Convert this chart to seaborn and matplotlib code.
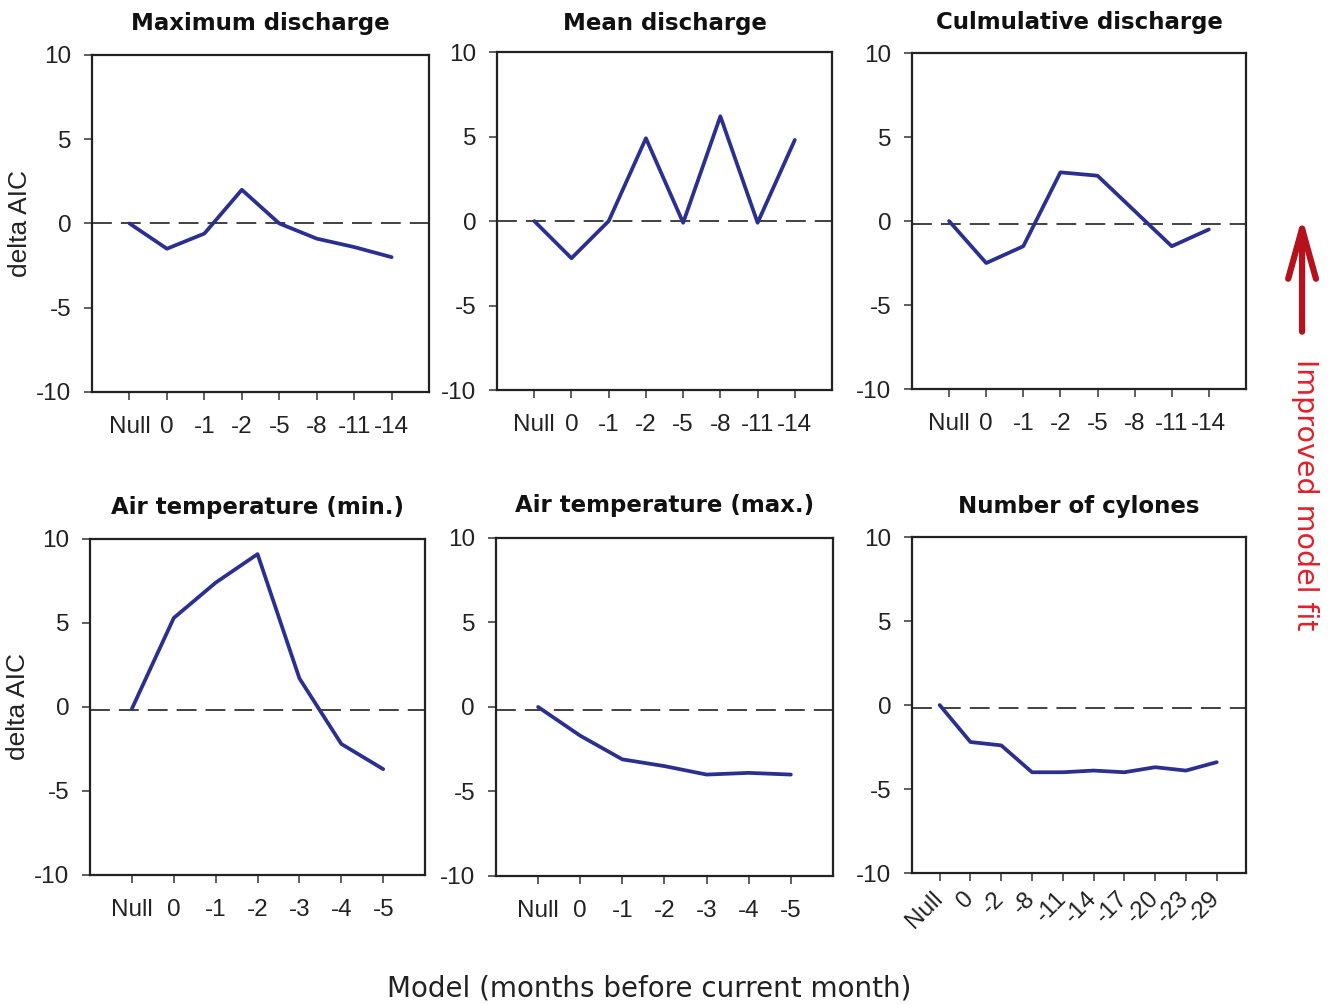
import matplotlib
matplotlib.use('Agg')
import matplotlib.pyplot as plt
import seaborn as sns

# Data (delta AIC per model)
discharge_labels = ['Null', '0', '-1', '-2', '-5', '-8', '-11', '-14']
max_discharge = [0.0, -1.5, -0.6, 2.0, 0.0, -0.9, -1.4, -2.0]
mean_discharge = [0.0, -2.2, 0.0, 4.9, -0.1, 6.2, -0.1, 4.8]
cum_discharge = [0.0, -2.5, -1.5, 2.9, 2.7, 0.6, -1.5, -0.5]

temp_labels = ['Null', '0', '-1', '-2', '-3', '-4', '-5']
air_temp_min = [-0.1, 5.3, 7.4, 9.1, 1.7, -2.2, -3.7]
air_temp_max = [0.0, -1.7, -3.1, -3.5, -4.0, -3.9, -4.0]

cyclone_labels = ['Null', '0', '-2', '-8', '-11', '-14', '-17', '-20', '-23', '-29']
n_cyclones = [0.0, -2.2, -2.4, -4.0, -4.0, -3.9, -4.0, -3.7, -3.9, -3.4]

titles = ['Maximum discharge', 'Mean discharge', 'Culmulative discharge',
          'Air temperature (min.)', 'Air temperature (max.)', 'Number of cylones']
baselines = [0.0, 0.0, -0.2, -0.2, -0.2, -0.15]

sns.set_style('ticks')
plt.rcParams['font.family'] = ['Liberation Sans', 'DejaVu Sans']

fig = plt.figure(figsize=(13.3, 10.05), dpi=100)

# axes rectangles (left, bottom, width, height)
boxes = [
    (0.0692, 0.6100, 0.2534, 0.3353),
    (0.3737, 0.6119, 0.2519, 0.3363),
    (0.6857, 0.6129, 0.2511, 0.3343),
    (0.0677, 0.1294, 0.2519, 0.3343),
    (0.3729, 0.1284, 0.2534, 0.3363),
    (0.6857, 0.1313, 0.2511, 0.3343),
]
title_pads = [18, 16, 17, 18, 19, 17]
panels = [
    (discharge_labels, max_discharge),
    (discharge_labels, mean_discharge),
    (discharge_labels, cum_discharge),
    (temp_labels, air_temp_min),
    (temp_labels, air_temp_max),
    (cyclone_labels, n_cyclones),
]

line_color = '#2b2f8f'

for i, (box, (labels, vals)) in enumerate(zip(boxes, panels)):
    ax = fig.add_axes(box)
    pos = list(range(len(labels)))
    ax.axhline(baselines[i], color='#333333', lw=1.3, ls=(0, (11, 5)), zorder=1)
    sns.lineplot(x=pos, y=vals, ax=ax, color=line_color, lw=2.7, sort=False, zorder=3)
    ax.set_ylim(-10, 10)
    ax.set_yticks([-10, -5, 0, 5, 10])
    ax.set_yticklabels(['-10', '-5', '0', '5', '10'])
    if len(labels) == 10:
        ax.set_xlim(-0.9, len(labels) - 0.05)
    else:
        ax.set_xlim(-1, len(labels))
    ax.set_xticks(pos)
    for s in ax.spines.values():
        s.set_visible(True)
        s.set_color('#222222')
        s.set_linewidth(1.6)
    ax.tick_params(axis='both', direction='out', length=6, width=1.2,
                   color='#444444', labelsize=17.5, labelcolor='#222222')
    ax.tick_params(axis='y', pad=9)
    if len(labels) == 10:
        ax.set_xticklabels(labels, rotation=45, ha='right', va='center',
                           rotation_mode='anchor')
        ax.tick_params(axis='x', pad=10)
    else:
        ax.set_xticklabels(labels)
        ax.tick_params(axis='x', pad=11)
    ax.set_xlabel('')
    ax.set_title(titles[i], fontsize=16.5, fontweight='bold', family='DejaVu Sans',
                 pad=title_pads[i], color='#111111')
    if i in (0, 3):
        ax.set_ylabel('delta AIC', fontsize=19, labelpad=3, color='#222222')
    else:
        ax.set_ylabel('')

fig.text(0.488, 0.002, 'Model (months before current month)', ha='center',
         va='bottom', fontsize=20, family='DejaVu Sans', color='#222222')

# "Improved model fit" arrow and label
fig.text(0.981, 0.508, 'Improved model fit', rotation=-90, ha='center', va='center',
         fontsize=20.5, family='DejaVu Sans', color='#e0202a')
fig.patches.append(matplotlib.patches.FancyArrowPatch(
    (0.979, 0.670), (0.979, 0.784), transform=fig.transFigure,
    arrowstyle='->,head_length=1.8,head_width=0.5', mutation_scale=20,
    shrinkA=0, shrinkB=0,
    color='#b5121b', lw=4.5, capstyle='round', joinstyle='round'))

plt.savefig('out.png', dpi=100)
plt.close()
